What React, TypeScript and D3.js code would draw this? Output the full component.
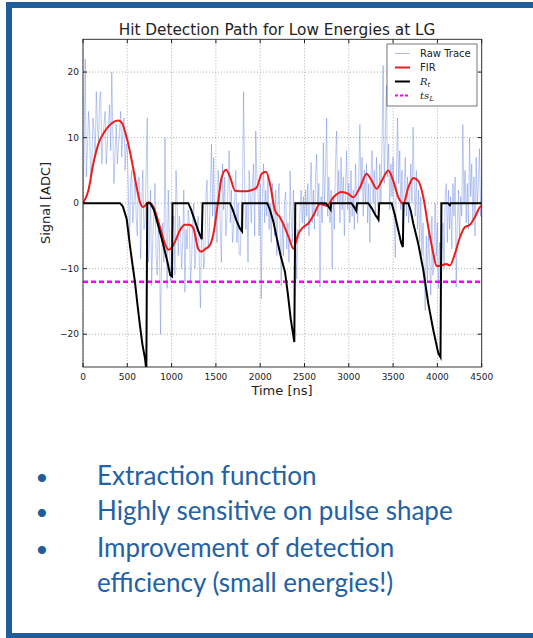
import React from "react";
import * as d3 from "d3";

// raw samples, one every RAW_DT ns starting at t = 0
const RAW_DT = 12.5;
const rawTrace = [
  -2.5, 9, 22, 4, 8, 14, 11, 3, 6, 13, 11, 7, 17, 12, 9, 16, 17, 6, 10, 12,
  14, 6, 9, 12, 15, 8, 20, 10, 3, 8, 12, 6, 9, 11, 14, 7, 11, 13, 5, 9,
  8, 2, -6, 3, 5, -3, 0, 4.7, -2, -5, 4, 3.7, -8.5, 0, 5, -4, -3, 4.9, 13, -9,
  -6, 2, -12.6, -5, -2, 3, -8, -11, -4, -6, -20, -8, -3, -9, 10, -4, -13, 2, -5, -12,
  -10, -4, -2, -11, 5, 0, -8, -2, -4, -10, -6, 2, -13.6, -4, -7, -1, -3, -12, -9, -3,
  0, -10, -7, -4, -2, -9, -16, -6, -3, -10, -8, 1, 3.5, -7, -5, 2, 9, -2, 7, -4,
  0, -6, 5, 2, -4, -9, 6, -1, 4, -5, -2, 3, 8, -3, 2, -6, -4, 1, 5, -6,
  0, -7.8, -8, -2, 2, 17, 3, -4, 0, -9, 5, 1, -3, 3, 6, -5, 11, 4, 2, -5,
  3, -14.6, 1, 6, -3, 2, -2, 4, -4, 0, -6, 3, -1, -5, 2, -8, 0, 3, -5, -12.6,
  -3, -8, 0, 1.7, -7, -3, -9, 4.9, -2, -6, 2, -5, -3, -11.6, -4, -5.5, -1, 2, -3, 1,
  -4, 2, -2, 3, -5, 1, 6.2, -3, 2, -4, 4, 7.5, -2, 3, -12.8, 1, -3, 9.2, 0, 5,
  13, -2, 4, -3, 2, -10, 1, -4, 6, 11, 0, 5, -3, 7, -1, 4, -5, 2, 8, -1,
  3, -3, 5, -2, 2, -4, 6, 1, -3, 4, 12, 2, 7, -2, 5, 0, 6, -3, 3, -6,
  4, 8, 0, 5, -2, 7, 1, -3, 6, 0, 9, 21, 3, 10, 18, 4, 9, -1, 6, 1,
  7, -2, -8.3, 4, 13, 3, 8, -1, 5, -4, 2, 7, -2, 4, -3, 1, 6, 0, 11.6, 3,
  -2, 5, -4, 2, -6, 1, -8, -3, -10, -16.4, -5, -12, -4, -9, -14, -2, -11, -6, 0, -8,
  -3, -13, -6, -16, -9, -3, -10, 1, 3, -6, 2, -4, 1, -7, 3, -2, 4, -12.8, -3, 2,
  -5, 1, -2, 12, 0, 5, -3, 3, -4, 10, 1, 6, -3, 4, -5, 7, 0, 3, 8.3, -2,
  4,
];

// FIR output, read at these times
const firTimes = [
  0, 60, 116, 173, 248, 324, 398, 437, 493, 550, 606, 643, 681, 737, 794, 869, 925, 963, 1000, 1038,
  1095, 1151, 1200, 1245, 1301, 1335, 1380, 1433, 1471, 1527, 1565, 1614, 1659, 1716, 1809, 1880, 1960, 2017, 2066, 2111,
  2167, 2224, 2280, 2330, 2374, 2430, 2487, 2543, 2600, 2675, 2751, 2826, 2920, 2995, 3051, 3126, 3202, 3247, 3315, 3371,
  3446, 3502, 3559, 3615, 3672, 3728, 3784, 3841, 3897, 3954, 3991, 4048, 4100, 4142, 4198, 4255, 4311, 4367, 4424, 4480,
  4500,
];
const firValues = [
  0, 1.9, 6, 9, 11, 12.2, 12.6, 12.3, 10, 6.5, 2.4, 0.15, -0.6, 0.15, -0.6, -3.65, -6.2, -7.1, -6.8, -5.9,
  -4.1, -3.3, -3.3, -3.8, -7, -7.4, -7, -6.4, -4.7, 0.4, 3.96, 5.1, 4, 1.9, 1.8, 1.9, 2.4, 4.5, 4.8, 2.9,
  -1.1, -2.2, -3.8, -5.5, -6.95, -4.7, -3.65, -3.1, -1.9, -0.1, -0.4, 0.9, 1.7, 1.4, 0.9, 2.4, 4.5, 3.7, 2.2, 3.4,
  5, 3.4, 0.9, -0.1, 2.4, 3.85, 3.4, 0.9, -3.65, -7.7, -9.6, -9.5, -9.3, -9.5, -7.7, -5.2, -3.65, -3.3, -2.1, -0.6,
  -0.4,
];

// R_t break points
const rtTimes = [
  0, 418, 450, 493, 530, 560, 587, 615, 643, 670, 700, 715, 725, 760, 800, 850, 900, 950, 985, 1005,
  1010, 1189, 1220, 1260, 1300, 1340, 1350, 1659, 1690, 1730, 1772, 1795, 1800, 2080, 2110, 2150, 2190, 2230, 2280, 2310,
  2345, 2385, 2396, 2740, 2770, 2795, 2800, 3030, 3060, 3085, 3092, 3220, 3260, 3300, 3335, 3343, 3484, 3520, 3560, 3590,
  3610, 3618, 3672, 3700, 3728, 3784, 3841, 3897, 3954, 4010, 4035, 4045, 4120, 4140, 4150, 4500,
];
const rtValues = [
  0, 0, -0.5, -2.4, -6.5, -9.5, -12.1, -15.5, -18.7, -21.5, -23.7, -25.5, 0, 0, -1, -3.5, -6, -8.8, -11, -11.2,
  0, 0, -1, -2.6, -4.2, -5.5, 0, 0, -1, -2.6, -3.9, -4.3, 0, 0, -1, -2.9, -5.5, -8, -10.5, -13.6,
  -17.7, -21.2, 0, 0, -0.5, -1, 0, 0, -0.6, -1.2, 0, 0, -0.8, -1.8, -2.5, 0, 0, -1.8, -4.2, -6,
  -6.7, 0, 0, -1.2, -3.1, -6.2, -10.2, -15.3, -19.4, -22.9, -23.5, 0, 0, -0.3, 0, 0,
];

const threshold = -12;

const xTicks = [0, 500, 1000, 1500, 2000, 2500, 3000, 3500, 4000, 4500];
const yTicks = [-20, -10, 0, 10, 20];

const bullets = [
  "Extraction function",
  "Highly sensitive on pulse shape",
  "Improvement of detection",
  "efficiency (small energies!)",
];

const W = 533;
const H = 638;
const plot = { left: 83, right: 481.7, top: 39.3, bottom: 367 };
const blue = "#1f5d9b";
const mpl = "DejaVu Sans, sans-serif";
const rawColor = "#4a6ed8";

export default function App() {
  const x = d3.scaleLinear().domain([0, 4500]).range([plot.left, plot.right]);
  const y = d3.scaleLinear().domain([-25, 25]).range([plot.bottom, plot.top]);

  const rawPath = d3
    .line<number>()
    .x((_, i) => x(i * RAW_DT))
    .y((d) => y(d))(rawTrace);

  const firPath = d3
    .line<number>()
    .x((_, i) => x(firTimes[i]))
    .y((d) => y(d))
    .curve(d3.curveMonotoneX)(firValues);

  const rtPath = d3
    .line<number>()
    .x((_, i) => x(rtTimes[i]))
    .y((d) => y(d))(rtValues);

  const pw = plot.right - plot.left;
  const ph = plot.bottom - plot.top;
  const lg = { x: 387, y: 44, w: 90, h: 62 };
  const rows = [53.5, 67.5, 81.5, 95.5];

  return (
    <svg
      width={W}
      height={H}
      style={{ position: "absolute", left: 0, top: 0, background: "#fff" }}
    >
      <defs>
        <clipPath id="plotClip">
          <rect x={plot.left} y={plot.top} width={pw} height={ph} />
        </clipPath>
      </defs>

      <rect x={9} y={5} width={600} height={631} fill="none" stroke={blue} strokeWidth={6} />

      <text x={277} y={35} textAnchor="middle" fontFamily={mpl} fontSize={15.3} fill="#222">
        Hit Detection Path for Low Energies at LG
      </text>

      {/* grid */}
      {xTicks.map((t) => (
        <line key={"gx" + t} x1={x(t)} x2={x(t)} y1={plot.top} y2={plot.bottom}
          stroke="#999" strokeWidth={0.8} strokeDasharray="1,2" />
      ))}
      {yTicks.map((v) => (
        <line key={"gy" + v} x1={plot.left} x2={plot.right} y1={y(v)} y2={y(v)}
          stroke="#999" strokeWidth={0.8} strokeDasharray="1,2" />
      ))}

      <g clipPath="url(#plotClip)">
        <path d={rawPath ?? ""} fill="none" stroke={rawColor} strokeOpacity={0.6} strokeWidth={0.6} />
        <line x1={plot.left} x2={plot.right} y1={y(threshold)} y2={y(threshold)}
          stroke="#ff00ff" strokeWidth={2.5} strokeDasharray="5,3" />
        <path d={firPath ?? ""} fill="none" stroke="#ee1c1c" strokeWidth={2} />
        <path d={rtPath ?? ""} fill="none" stroke="#000" strokeWidth={2} />
      </g>

      {/* frame and ticks */}
      <rect x={plot.left} y={plot.top} width={pw} height={ph} fill="none" stroke="#222" strokeWidth={0.9} />
      {xTicks.map((t) => (
        <g key={"tx" + t}>
          <line x1={x(t)} x2={x(t)} y1={plot.bottom} y2={plot.bottom - 4} stroke="#222" />
          <line x1={x(t)} x2={x(t)} y1={plot.top} y2={plot.top + 4} stroke="#222" />
          <text x={x(t)} y={379.5} textAnchor="middle" fontFamily={mpl} fontSize={9} fill="#222">
            {t}
          </text>
        </g>
      ))}
      {yTicks.map((v) => (
        <g key={"ty" + v}>
          <line x1={plot.left} x2={plot.left + 4} y1={y(v)} y2={y(v)} stroke="#222" />
          <line x1={plot.right} x2={plot.right - 4} y1={y(v)} y2={y(v)} stroke="#222" />
          <text x={79} y={y(v) + 3.2} textAnchor="end" fontFamily={mpl} fontSize={9} fill="#222">
            {v < 0 ? "\u2212" + Math.abs(v) : v}
          </text>
        </g>
      ))}

      <text x={282} y={395} textAnchor="middle" fontFamily={mpl} fontSize={13} fill="#222">
        Time [ns]
      </text>
      <text transform="translate(50,203) rotate(-90)" textAnchor="middle" fontFamily={mpl} fontSize={13} fill="#222">
        Signal [ADC]
      </text>

      {/* legend */}
      <rect x={lg.x} y={lg.y} width={lg.w} height={lg.h} fill="#fff" stroke="#555" strokeWidth={0.8} />
      <line x1={395} x2={410} y1={rows[0]} y2={rows[0]} stroke={rawColor} strokeOpacity={0.45} strokeWidth={1} />
      <line x1={395} x2={410} y1={rows[1]} y2={rows[1]} stroke="#ee1c1c" strokeWidth={2} />
      <line x1={395} x2={410} y1={rows[2]} y2={rows[2]} stroke="#000" strokeWidth={2} />
      <line x1={395} x2={410} y1={rows[3]} y2={rows[3]} stroke="#ff00ff" strokeWidth={2} strokeDasharray="3,2" />
      <text x={420} y={rows[0] + 3.5} fontFamily={mpl} fontSize={10} fill="#222">Raw Trace</text>
      <text x={420} y={rows[1] + 3.5} fontFamily={mpl} fontSize={10} fill="#222">FIR</text>
      <text x={420} y={rows[2] + 3.5} fontFamily="DejaVu Serif, serif" fontStyle="italic" fontSize={10} fill="#222">
        R<tspan fontSize={7} dy={2}>t</tspan>
      </text>
      <text x={420} y={rows[3] + 3.5} fontFamily="DejaVu Serif, serif" fontStyle="italic" fontSize={10} fill="#222">
        ts<tspan fontSize={7} dy={2}>L</tspan>
      </text>

      {/* bullet list */}
      {bullets.map((b, i) => {
        const base = [485, 520, 556.5, 591.5][i];
        return (
          <g key={b}>
            {i < 3 && (
              <text x={42} y={base} textAnchor="middle" fontFamily="Lato, sans-serif" fontSize={22} fill={blue}>
                •
              </text>
            )}
            <text x={97} y={base} fontFamily="Lato, sans-serif" fontSize={26} fill="#2461a3">
              {b}
            </text>
          </g>
        );
      })}
    </svg>
  );
}
